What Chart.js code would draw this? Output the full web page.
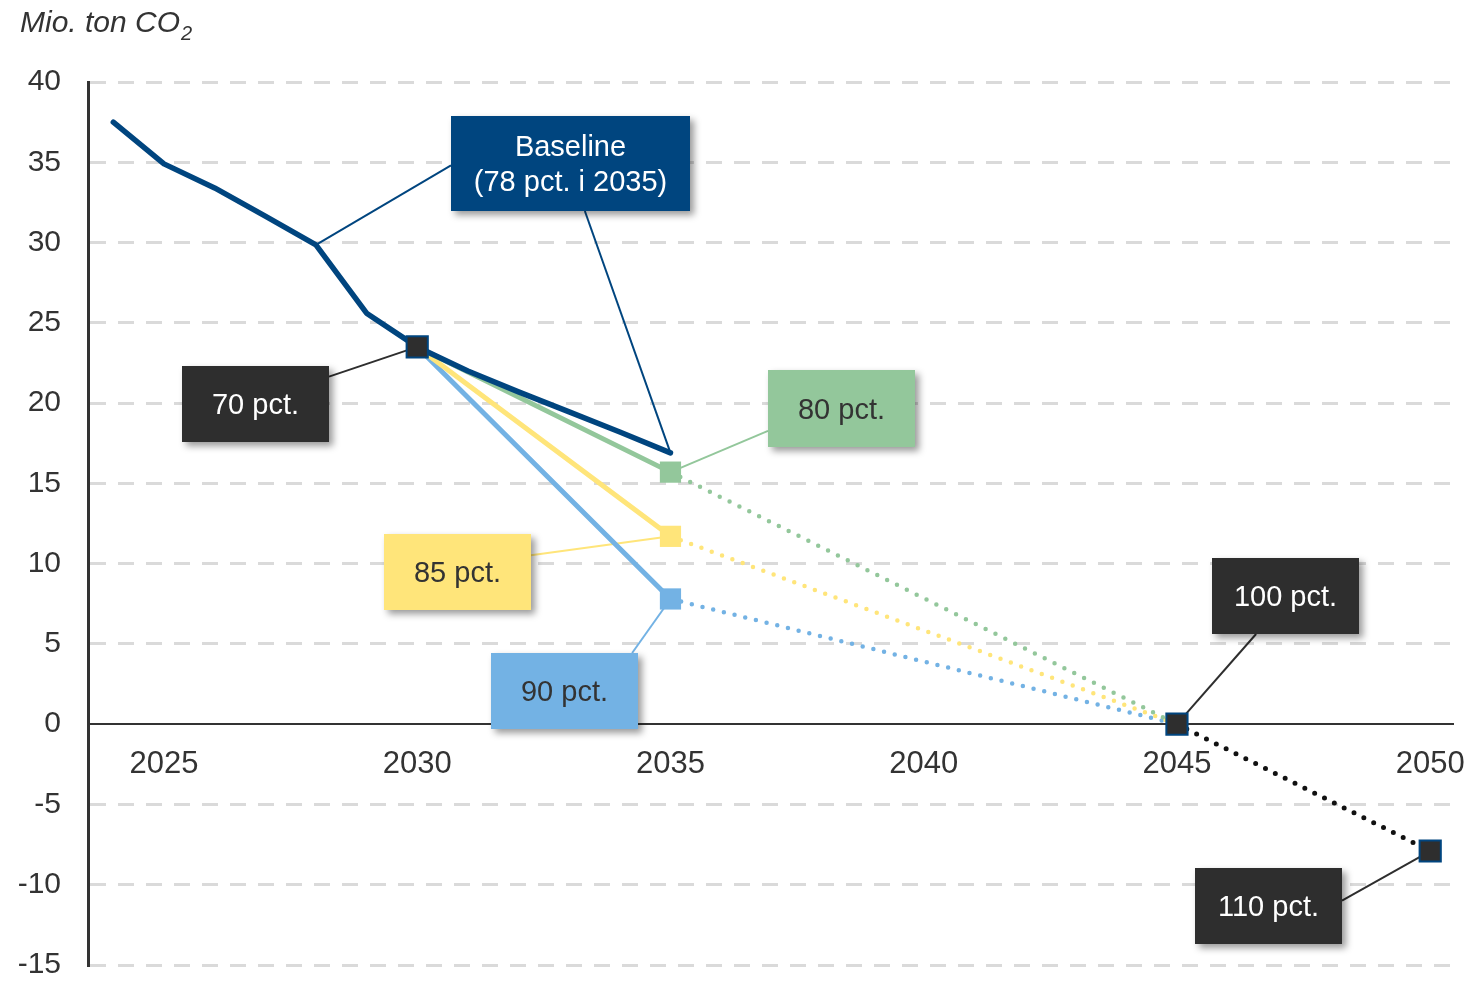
<!DOCTYPE html>
<html>
<head>
<meta charset="utf-8">
<script src="https://cdn.jsdelivr.net/npm/chart.js@4.4.1/dist/chart.umd.min.js"></script>
<style>
  html, body { margin: 0; padding: 0; background: #fff; }
</style>
</head>
<body>
<canvas id="chart" width="1470" height="982"></canvas>
<script>
// Emission pathways, mio. ton CO2

const baselineYears = [2024, 2025, 2026, 2027, 2028, 2029, 2030, 2031, 2032, 2033, 2034, 2035];
const baselineValues = [37.5, 34.9, 33.4, 31.65, 29.85, 25.6, 23.5, 22.0, 20.7, 19.45, 18.2, 16.9];

// 2030 -> 2035 solid, 2035 -> 2045 dotted
const scenarioYears = [2030, 2035, 2045];
const pct80 = [23.5, 15.7, 0];
const pct85 = [23.5, 11.7, 0];
const pct90 = [23.5, 7.8, 0];

// black milestones: 70 pct (2030), 100 pct (2045), 110 pct (2050)
const milestoneYears = [2030, 2045, 2050];
const milestoneValues = [23.5, 0, -7.9];

const netYears = [2045, 2050];
const netValues = [0, -7.9];

const xTickYears = [2025, 2030, 2035, 2040, 2045, 2050];

const FONT = '"Liberation Sans", Arial, sans-serif';
const DARK = '#2e2e2e';
const NAVY = '#00457f';
const GREEN = '#93c79b';
const YELLOW = '#ffe57a';
const BLUE = '#73b2e4';

function pts(xs, ys) {
    return xs.map((x, i) => ({ x: x, y: ys[i] }));
}

function scenario(values, color) {
    return {
        data: pts(scenarioYears, values),
        borderColor: color,
        backgroundColor: color,
        borderWidth: 5,
        borderCapStyle: 'round',
        pointStyle: 'rect',
        pointRadius: ctx => ctx.dataIndex === 1 ? 15 : 0,
        pointBorderWidth: 0,
        segment: {
            borderDash: ctx => ctx.p0DataIndex >= 1 ? [0, 11] : undefined,
            borderWidth: ctx => ctx.p0DataIndex >= 1 ? 4.5 : 5
        }
    };
}

// callout boxes: centre in data units, leader anchors as fractions of the box
const callouts = [
    { lines: ['Baseline', '(78 pct. i 2035)'], at: [2033.03, 34.9], w: 239, h: 95, fill: NAVY, color: '#fff',
      leaders: [{ from: [0, 0.52], to: [2028, baselineValues[4]] }, { from: [0.56, 1], to: [2035, baselineValues[11]] }] },
    { lines: ['70 pct.'], at: [2026.8, 19.94], w: 147, h: 76, fill: DARK, color: '#fff',
      leaders: [{ from: [1, 0.14], to: [2030, milestoneValues[0]] }] },
    { lines: ['80 pct.'], at: [2038.38, 19.67], w: 147, h: 77, fill: GREEN, color: '#333',
      leaders: [{ from: [0, 0.79], to: [2035, pct80[1]] }] },
    { lines: ['85 pct.'], at: [2030.79, 9.48], w: 147, h: 76, fill: YELLOW, color: '#333',
      leaders: [{ from: [1, 0.28], to: [2035, pct85[1]] }] },
    { lines: ['90 pct.'], at: [2032.9, 2.04], w: 147, h: 76, fill: BLUE, color: '#333',
      leaders: [{ from: [0.96, 0], to: [2035, pct90[1]] }] },
    { lines: ['100 pct.'], at: [2047.15, 7.99], w: 147, h: 76, fill: DARK, color: '#fff',
      leaders: [{ from: [0.3, 1], to: [2045, milestoneValues[1]] }] },
    { lines: ['110 pct.'], at: [2046.8, -11.33], w: 147, h: 76, fill: DARK, color: '#fff',
      leaders: [{ from: [1, 0.43], to: [2050, milestoneValues[2]] }] }
];

function boxRect(chart, c) {
    const cx = chart.scales.x.getPixelForValue(c.at[0]);
    const cy = chart.scales.y.getPixelForValue(c.at[1]);
    return { x: Math.round(cx - c.w / 2), y: Math.round(cy - c.h / 2), w: c.w, h: c.h };
}

const calloutPlugin = {
    id: 'callouts',
    beforeDatasetsDraw(chart) {
        const ctx = chart.ctx;
        ctx.save();
        callouts.forEach(c => {
            const r = boxRect(chart, c);
            c.leaders.forEach(l => {
                ctx.beginPath();
                ctx.moveTo(r.x + l.from[0] * r.w, r.y + l.from[1] * r.h);
                ctx.lineTo(chart.scales.x.getPixelForValue(l.to[0]), chart.scales.y.getPixelForValue(l.to[1]));
                ctx.strokeStyle = c.fill;
                ctx.lineWidth = 2;
                ctx.stroke();
            });
        });
        ctx.restore();
    },
    afterDatasetsDraw(chart) {
        const ctx = chart.ctx;
        callouts.forEach(c => {
            const r = boxRect(chart, c);
            ctx.save();
            ctx.shadowColor = 'rgba(0,0,0,0.4)';
            ctx.shadowBlur = 7;
            ctx.shadowOffsetX = 4;
            ctx.shadowOffsetY = 4;
            ctx.fillStyle = c.fill;
            ctx.fillRect(r.x, r.y, r.w, r.h);
            ctx.restore();

            ctx.save();
            ctx.fillStyle = c.color;
            ctx.font = '29px ' + FONT;
            ctx.textAlign = 'center';
            ctx.textBaseline = 'middle';
            const lh = 35;
            const y0 = r.y + r.h / 2 - (c.lines.length - 1) * lh / 2;
            c.lines.forEach((t, i) => ctx.fillText(t, r.x + r.w / 2, y0 + i * lh + 2));
            ctx.restore();
        });
    },
    afterDraw(chart) {
        const ctx = chart.ctx;
        ctx.save();
        ctx.fillStyle = '#333';
        ctx.textBaseline = 'alphabetic';
        ctx.font = 'italic 30px ' + FONT;
        ctx.fillText('Mio. ton CO', 20, 32);
        const w = ctx.measureText('Mio. ton CO').width;
        ctx.font = 'italic 20px ' + FONT;
        ctx.fillText('2', 21 + w, 40);
        ctx.restore();
    }
};

new Chart(document.getElementById('chart'), {
    type: 'line',
    data: {
        datasets: [
            {
                data: pts(milestoneYears, milestoneValues),
                showLine: false,
                pointStyle: 'rect',
                pointRadius: 15,
                pointBackgroundColor: DARK,
                pointBorderColor: NAVY,
                pointBorderWidth: 2
            },
            {
                data: pts(netYears, netValues),
                borderColor: '#111',
                borderWidth: 5,
                borderCapStyle: 'round',
                borderDash: [0, 11],
                pointRadius: 0
            },
            {
                data: pts(baselineYears, baselineValues),
                borderColor: NAVY,
                borderWidth: 5.5,
                borderCapStyle: 'round',
                borderJoinStyle: 'round',
                pointRadius: 0
            },
            scenario(pct80, GREEN),
            scenario(pct85, YELLOW),
            scenario(pct90, BLUE)
        ]
    },
    options: {
        responsive: false,
        animation: false,
        devicePixelRatio: 1,
        layout: { padding: { top: 82, right: 16, bottom: 12, left: 0 } },
        plugins: {
            legend: { display: false },
            tooltip: { enabled: false }
        },
        scales: {
            x: {
                type: 'linear',
                min: 2023.5,
                max: 2050.45,
                position: { y: 0 },
                afterBuildTicks: axis => { axis.ticks = xTickYears.map(v => ({ value: v })); },
                afterFit: scale => {
                    scale.height = 0;
                    scale.paddingLeft = 0;
                    scale.paddingRight = 0;
                    scale.paddingTop = 0;
                    scale.paddingBottom = 0;
                },
                grid: { display: false, drawTicks: false },
                border: { display: true, color: '#333', width: 2 },
                ticks: {
                    padding: 22,
                    color: '#333',
                    font: { family: FONT, size: 31 },
                    callback: v => String(v),
                    maxRotation: 0
                }
            },
            y: {
                min: -15,
                max: 40,
                afterFit: scale => {
                    scale.width = 88;
                    scale.paddingTop = 0;
                    scale.paddingBottom = 0;
                },
                grid: {
                    color: ctx => ctx.tick && ctx.tick.value === 0 ? 'rgba(0,0,0,0)' : '#dadada',
                    lineWidth: 3,
                    drawTicks: false
                },
                border: { display: true, color: '#333', width: 3, dash: [16, 12] },
                ticks: {
                    stepSize: 5,
                    padding: 27,
                    color: '#333',
                    font: { family: FONT, size: 30 }
                }
            }
        }
    },
    plugins: [calloutPlugin]
});
</script>
</body>
</html>
